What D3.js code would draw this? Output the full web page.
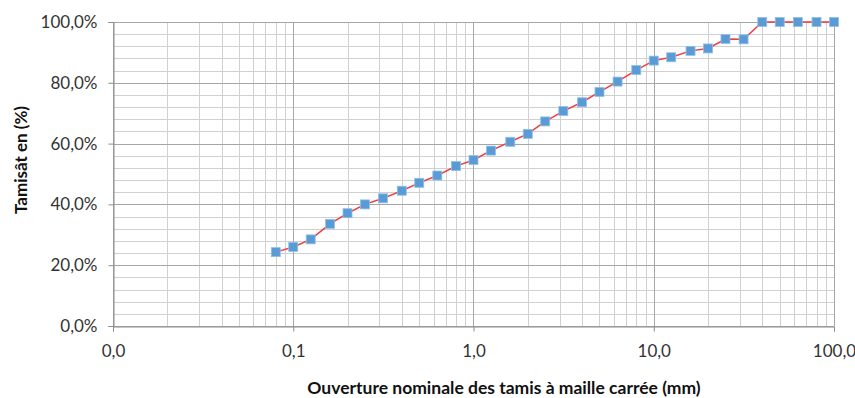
<!DOCTYPE html>
<html><head><meta charset="utf-8">
<script src="https://cdn.jsdelivr.net/npm/d3@7"></script>
<style>body{margin:0;background:#fff}svg{display:block}text{font-family:Lato,"Open Sans",sans-serif}</style>
</head><body><svg id="c" width="855" height="398"></svg>
<script>
const sieves = [0.08,0.1,0.125,0.16,0.2,0.25,0.315,0.4,0.5,0.63,0.8,1,1.25,1.6,2,2.5,3.15,4,5,6.3,8,10,12.5,16,20,25,31.5,40,50,63,80,100];
const passing = [24.3,26.0,28.5,33.6,37.1,40.0,42.0,44.5,47.1,49.5,52.6,54.6,57.7,60.6,63.2,67.3,70.7,73.6,77.0,80.4,84.2,87.3,88.4,90.5,91.3,94.4,94.3,100,100,100,100,100];
const xTicks = [0.01,0.1,1,10,100];
const xTickLabels = ["0,0","0,1","1,0","10,0","100,0"];
const yTicks = [0,20,40,60,80,100];
const yTickLabels = ["0,0%","20,0%","40,0%","60,0%","80,0%","100,0%"];
const yMinor = d3.range(0,101,4);
const xTitle = "Ouverture nominale des tamis à  maille carrée (mm)";
const yTitle = "Tamisât en (%)";

const svg = d3.select("#c");
const L=113,R=834,T=22,B=326;
const x = d3.scaleLog().domain([0.01,100]).range([L,R]);
const y = d3.scaleLinear().domain([0,100]).range([B,T]);

const xMinor = [];
for (let e=-2;e<2;e++) for (let m=2;m<=9;m++) xMinor.push(m*Math.pow(10,e));

const g = svg.append("g");
g.selectAll(".hy").data(yMinor.filter(v=>v%20!==0)).enter().append("line")
 .attr("x1",L).attr("x2",R).attr("y1",d=>Math.round(y(d))+0.5).attr("y2",d=>Math.round(y(d))+0.5)
 .attr("stroke","#d0d0d0").attr("stroke-width",1);
g.selectAll(".vx").data(xMinor).enter().append("line")
 .attr("y1",T).attr("y2",B).attr("x1",d=>Math.round(x(d))+0.5).attr("x2",d=>Math.round(x(d))+0.5)
 .attr("stroke","#d0d0d0").attr("stroke-width",1);
g.selectAll(".My").data(yTicks).enter().append("line")
 .attr("x1",L).attr("x2",R).attr("y1",d=>Math.round(y(d))+0.5).attr("y2",d=>Math.round(y(d))+0.5)
 .attr("stroke","#a6a6a6").attr("stroke-width",1);
g.selectAll(".Mx").data(xTicks).enter().append("line")
 .attr("y1",T).attr("y2",B).attr("x1",d=>Math.round(x(d))+0.5).attr("x2",d=>Math.round(x(d))+0.5)
 .attr("stroke","#a6a6a6").attr("stroke-width",1);

const yAxis = d3.axisLeft(y).tickValues(yTicks).tickFormat((d,i)=>yTickLabels[i]).tickSize(5).tickPadding(11);
const ya = svg.append("g").attr("transform",`translate(${L+0.5},0)`).call(yAxis);
ya.select(".domain").attr("stroke","#8c8c8c");
ya.selectAll(".tick line").attr("stroke","#8c8c8c");
ya.selectAll("text").attr("font-size","17px").attr("fill","#333");

const xAxis = d3.axisBottom(x).tickValues(xTicks).tickFormat((d,i)=>xTickLabels[i]).tickSize(5).tickPadding(13);
const xa = svg.append("g").attr("transform",`translate(0,${B+0.5})`).call(xAxis);
xa.select(".domain").attr("stroke","#8c8c8c");
xa.selectAll(".tick line").attr("stroke","#8c8c8c");
xa.selectAll("text").attr("font-size","17px").attr("fill","#333");

const line = d3.line().x((d,i)=>x(sieves[i])).y(d=>y(d));
svg.append("path").datum(passing).attr("d",line).attr("fill","none")
 .attr("stroke","#f03c3c").attr("stroke-width",1.5);
svg.selectAll(".pt").data(passing).enter().append("rect")
 .attr("x",(d,i)=>x(sieves[i])-4.5).attr("y",d=>y(d)-4.5).attr("width",9).attr("height",9)
 .attr("fill","#5b9bd5").attr("stroke","#8ec0ea").attr("stroke-width",0.8);

svg.append("text").attr("x",504).attr("y",394).attr("text-anchor","middle")
 .attr("font-size","17.5px").attr("font-weight","bold").attr("fill","#111").text(xTitle);
svg.append("text").attr("transform","translate(27,160) rotate(-90)").attr("text-anchor","middle")
 .attr("font-size","17px").attr("font-weight","bold").attr("fill","#111").text(yTitle);
</script></body></html>
